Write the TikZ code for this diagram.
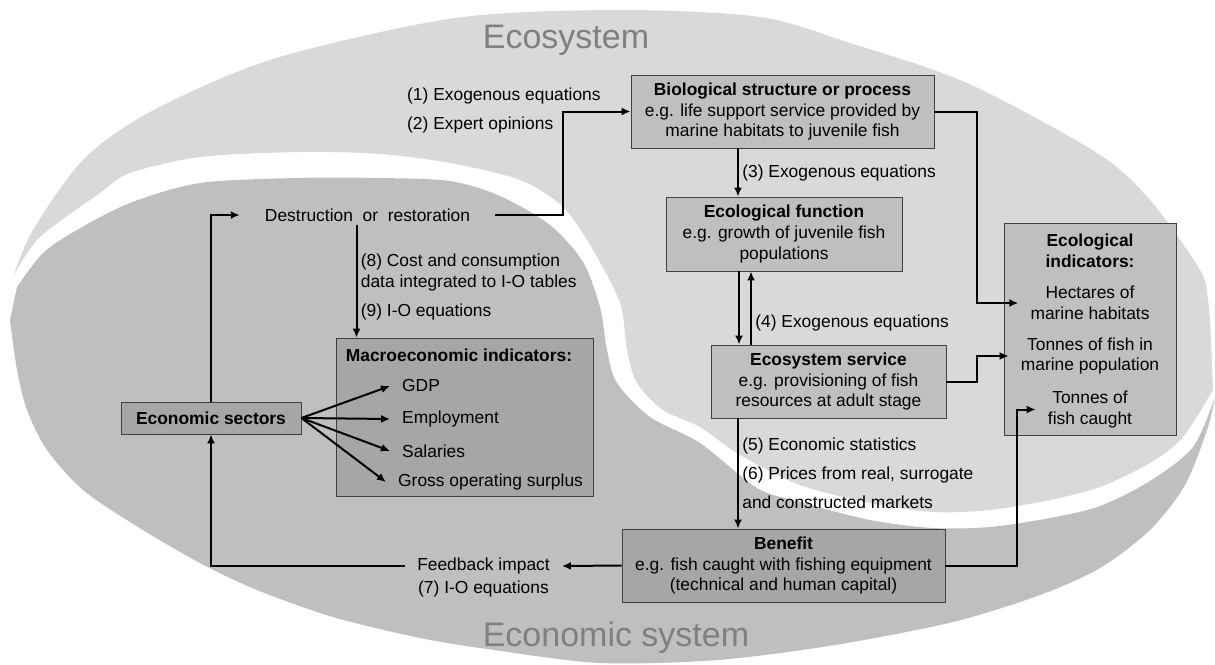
\documentclass[tikz,border=0pt]{standalone}
\usepackage{fontspec}
\setmainfont{Liberation Sans}
\usetikzlibrary{arrows.meta}
\definecolor{ecolight}{HTML}{D9D9D9}
\definecolor{ecodark}{HTML}{BFBFBF}
\definecolor{boxdark}{HTML}{A6A6A6}
\definecolor{titlegrey}{HTML}{808080}

\begin{document}
\begin{tikzpicture}[x=1pt,y=-1pt,
  font=\fontsize{17.4}{20.9}\selectfont,
  box/.style={draw=black!75,line width=0.9pt,fill=ecodark,align=center,inner sep=0pt},
  darkbox/.style={box,fill=boxdark},
  arr/.style={line width=2pt,-{Latex[length=9pt,width=8pt]}},
  title/.style={text=titlegrey,font=\fontsize{34}{40}\selectfont},
  item/.style={inner xsep=12pt,inner ysep=0pt,align=center},
  lbl/.style={align=left}]
\useasboundingbox (0,0) rectangle (1215,664);
% ecosystem
\fill[ecolight] plot[smooth] coordinates {(13,277) (33,230) (83,160) (150,112) (273,59) (455,18) (620,10) (760,17) (850,43) (967,83) (1097,153) (1150,200) (1200,270) (1208,300) (1211,340) (1213,390)}
  -- plot[smooth] coordinates {(1213,390) (1183,437) (1150,463) (1100,487) (1050,500) (990,510) (933,512) (870,503) (800,485) (740,455) (700,427) (663,410) (637,383) (627,350) (620,303) (593,250) (563,207) (520,180) (450,163) (380,154) (300,152) (200,157) (130,173) (100,193) (40,237) (13,277)} -- cycle;
% economic system
\fill[ecodark] plot[smooth] coordinates {(17,287) (43,253) (77,230) (130,203) (200,183) (296,178) (380,178) (450,181) (500,196) (550,225) (583,262) (600,307) (607,350) (617,383) (650,417) (700,443) (757,488) (800,502) (870,520) (933,528) (990,527) (1050,518) (1100,506) (1150,481) (1193,447) (1215,397)}
  -- plot[smooth] coordinates {(1215,397) (1207,430) (1185,485) (1150,530) (1100,568) (1040,595) (953,622) (835,645) (718,660) (600,663) (494,650) (420,638) (333,617) (257,590) (200,563) (138,527) (83,490) (47,450) (27,410) (17,370) (10,320)} -- cycle;
\node[title] (ecotitle) at (566,40) {Ecosystem};
\node[title] (econtitle) at (616,638) {Economic system};
% ecosystem boxes
\node[box,minimum width=303pt,minimum height=73pt] (bio) at (782.5,111.5)
  {\textbf{Biological structure or process}\\e.g. life support service provided by\\marine habitats to juvenile fish};
\node[box,minimum width=236pt,minimum height=74pt] (ef) at (784,234)
  {\textbf{Ecological function}\\e.g. growth of juvenile fish\\populations};
\node[box,minimum width=235pt,minimum height=73pt] (es) at (828.5,381.5)
  {\textbf{Ecosystem service}\\e.g. provisioning of fish\\resources at adult stage};
\node[box,minimum width=172pt,minimum height=212pt] (ecoind) at (1090,329) {};
\node[align=center] (ecotit) at (1090,250.5) {\textbf{Ecological}\\\textbf{indicators:}};
\node[item] (hect) at (1090,303) {Hectares of\\marine habitats};
\node[item] (pop) at (1090,356) {Tonnes of fish in\\marine population};
\node[item] (caught) at (1090,409.5) {Tonnes of\\fish caught};
% economic boxes
\node[darkbox,minimum width=323pt,minimum height=73pt] (ben) at (783.5,565.5)
  {\textbf{Benefit}\\e.g. fish caught with fishing equipment\\(technical and human capital)};
\node[darkbox,minimum width=180pt,minimum height=32pt] (econ) at (211,418) {\textbf{Economic sectors}};
\node[darkbox,minimum width=257pt,minimum height=158pt] (macro) at (464.5,417) {};
\node (macrotit) at (459,355) {\textbf{Macroeconomic indicators:}};
\node[item,anchor=west] (gdp) at (390,386) {GDP};
\node[item,anchor=west] (emp) at (390,419) {Employment};
\node[item,anchor=west] (sal) at (390,451) {Salaries};
\node[item,anchor=west] (gos) at (386,482) {Gross operating surplus};
% free texts
\node[inner xsep=25pt] (dest) at (367.5,215) {Destruction~ or~ restoration};
\node[lbl,anchor=west,inner sep=0pt] (lbl12) at (407,110.5) {(1) Exogenous equations\\[8pt](2) Expert opinions};
\node[inner xsep=12pt,inner ysep=2pt] (fb) at (483.5,566) {Feedback impact};
\node[anchor=west,inner sep=0pt] (io7) at (418,589) {(7) I-O equations};
% connectors
\draw[arr] (econ.north) |- (dest.west);
\draw[arr] (dest.east) -| ([xshift=-68pt]bio.west) -- (bio.west);
\draw[arr] ([xshift=-11pt]dest.south) -- ([xshift=-11pt]dest.south |- macro.north)
  node[pos=0.55,right,lbl] {(8) Cost and consumption\\data integrated to I-O tables\\[8pt](9) I-O equations};
\draw[arr] ([xshift=-44.5pt]bio.south) -- ([xshift=-44.5pt]bio.south |- ef.north)
  node[midway,right] {(3) Exogenous equations};
\draw[arr] ([xshift=-45pt]ef.south) -- ([xshift=-45pt]ef.south |- es.north);
\draw[arr] ([xshift=-33pt]ef.south |- es.north) -- ([xshift=-33pt]ef.south)
  node[pos=0.3,right] {(4) Exogenous equations};
\draw[arr] ([xshift=-90.5pt]es.south) -- ([xshift=-90.5pt]es.south |- ben.north)
  node[midway,right,lbl] {(5) Economic statistics\\[8.5pt](6) Prices from real, surrogate\\[8pt]and constructed markets};
\draw[arr] (bio.east) -| ([xshift=-41pt]hect.west) -- (hect.west);
\draw[arr] (es.east) -| ([xshift=-32pt]pop.west) -- (pop.west);
\draw[arr] (ben.east) -| ([xshift=-19pt]caught.west) -- (caught.west);
\draw[arr] (ben.west) -- (fb.east);
\draw[arr] (fb.west) -| (econ.south);
\foreach \n in {gdp,emp,sal,gos}
  \draw[arr] (econ.east) -- (\n.west);
\end{tikzpicture}
\end{document}
